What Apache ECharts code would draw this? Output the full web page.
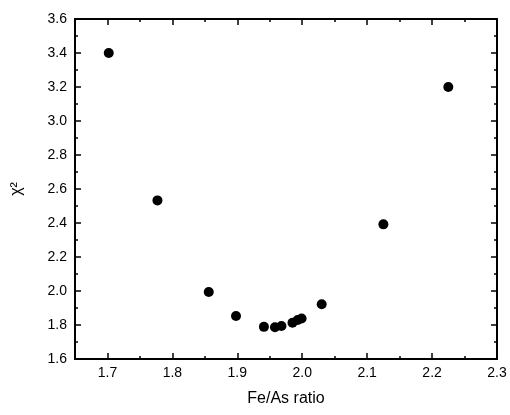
<!DOCTYPE html>
<html>
<head>
<meta charset="utf-8">
<script src="https://cdn.jsdelivr.net/npm/echarts@6/dist/echarts.min.js"></script>
<style>html,body{margin:0;padding:0;background:#fff}#c{width:510px;height:415px}</style>
</head>
<body>
<div id="c"></div>
<script>
const feAsRatio = [1.702, 1.777, 1.856, 1.898, 1.941, 1.958, 1.968, 1.985, 1.993, 1.999, 2.030, 2.125, 2.225];
const chiSquared = [3.40, 2.533, 1.994, 1.853, 1.789, 1.787, 1.794, 1.813, 1.829, 1.838, 1.922, 2.392, 3.20];
const xMajorTicks = [1.7, 1.8, 1.9, 2.0, 2.1, 2.2, 2.3];
const xMinorTicks = [1.65, 1.75, 1.85, 1.95, 2.05, 2.15, 2.25];

const chart = echarts.init(document.getElementById('c'), null, {renderer: 'canvas'});
const font = 'Liberation Sans, Arial, sans-serif';
const lineStyle = {color: '#000', width: 2};
function xAx(pos, showLabel, ticks, len, name) {
  return {
    type: 'value', position: pos, min: 1.65, max: 2.3,
    name: name || '', nameLocation: 'middle', nameGap: 32,
    nameTextStyle: {color: '#000', fontSize: 16, fontFamily: font},
    axisLine: {show: true, onZero: false, lineStyle: lineStyle},
    axisTick: {show: true, inside: true, length: len, customValues: ticks, lineStyle: {color: '#000', width: 1.5}},
    axisLabel: {show: showLabel, customValues: ticks, margin: 7, color: '#000', fontSize: 14, fontFamily: font,
      formatter: v => v.toFixed(1)},
    splitLine: {show: false}
  };
}
function yAx(pos, showLabel, name) {
  return {
    type: 'value', position: pos, min: 1.6, max: 3.6, interval: 0.2,
    name: name || '', nameLocation: 'middle', nameGap: 50, nameRotate: 90,
    nameTextStyle: {color: '#000', fontSize: 16, fontFamily: font},
    axisLine: {show: true, onZero: false, lineStyle: lineStyle},
    axisTick: {show: true, inside: true, length: 6, lineStyle: {color: '#000', width: 1.5}},
    minorTick: {show: true, splitNumber: 2, length: 3, lineStyle: {color: '#000', width: 1.5}},
    axisLabel: {show: showLabel, margin: 8, color: '#000', fontSize: 14, fontFamily: font,
      formatter: v => v.toFixed(1)},
    splitLine: {show: false}, minorSplitLine: {show: false}
  };
}
const xAxes = [
  xAx('bottom', true, xMajorTicks, 6, 'Fe/As ratio'),
  xAx('bottom', false, xMinorTicks, 3),
  xAx('top', false, xMajorTicks, 6),
  xAx('top', false, xMinorTicks, 3)
];
const yAxes = [yAx('left', true, 'χ²'), yAx('right', false)];
chart.setOption({
  animation: false,
  backgroundColor: '#fff',
  grid: {left: 75, right: 13, top: 19, bottom: 56},
  xAxis: xAxes,
  yAxis: yAxes,
  series: [{
    type: 'scatter', xAxisIndex: 0, yAxisIndex: 0,
    symbol: 'circle', symbolSize: 10,
    itemStyle: {color: '#000', opacity: 1},
    data: feAsRatio.map((x, i) => [x, chiSquared[i]])
  }]
});
</script>
</body>
</html>
